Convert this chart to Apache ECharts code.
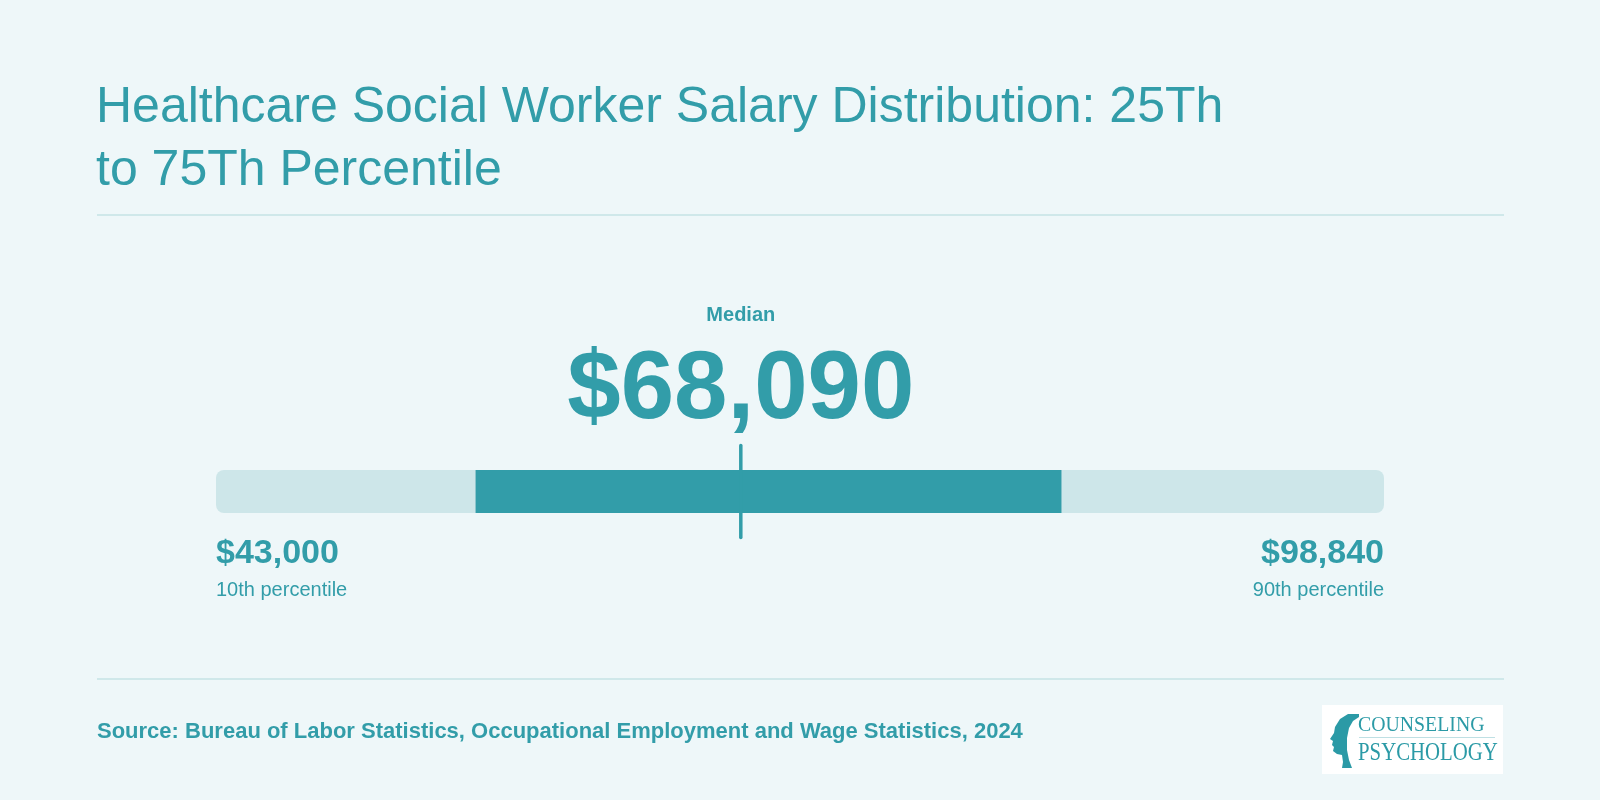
<!DOCTYPE html>
<html>
<head>
<meta charset="utf-8">
<script src="https://cdn.jsdelivr.net/npm/echarts@6/dist/echarts.min.js"></script>
<style>
html, body { margin: 0; padding: 0; background: #eef7f9; }
#chart { width: 1600px; height: 800px; }
</style>
</head>
<body>
<div id="chart"></div>
<script>
// salary percentiles
var percentileNames = ['10th percentile', '25th percentile', 'Median', '75th percentile', '90th percentile'];
var salaryValues = [43000, 55410, 68090, 83420, 98840];

var titleText = 'Healthcare Social Worker Salary Distribution: 25Th\nto 75Th Percentile';
var sourceText = 'Source: Bureau of Labor Statistics, Occupational Employment and Wage Statistics, 2024';

var teal = '#329da9';
var pale = '#cde6e9';
var ruleColor = '#cfe8ea';
var font = '"Liberation Sans", Arial, sans-serif';

function money(v) {
    return '$' + v.toLocaleString('en-US');
}

// outer band 10th-90th, inner band 25th-75th
var ranges = [
    [salaryValues[0], salaryValues[4]],
    [salaryValues[1], salaryValues[3]]
];
var ends = [
    [salaryValues[0], 0],
    [salaryValues[4], 4]
];

function renderRange(params, api) {
    var a = api.coord([api.value(0), 1]);
    var b = api.coord([api.value(1), 0]);
    var outer = params.dataIndex === 0;
    return {
        type: 'rect',
        shape: { x: a[0], y: a[1], width: b[0] - a[0], height: b[1] - a[1], r: outer ? 8 : 0 },
        style: { fill: outer ? pale : teal }
    };
}

function renderMedian(params, api) {
    var v = api.value(0);
    var top = api.coord([v, 1]);
    var bot = api.coord([v, 0]);
    var x = top[0];
    var cy = (top[1] + bot[1]) / 2;
    return {
        type: 'group',
        children: [
            {
                type: 'line',
                shape: { x1: x, y1: cy - 46, x2: x, y2: cy + 46 },
                style: { stroke: teal, lineWidth: 3.5, lineCap: 'round' }
            },
            {
                type: 'text',
                style: {
                    text: percentileNames[2], x: x, y: cy - 176.5,
                    align: 'center', verticalAlign: 'middle',
                    fontFamily: font, fontSize: 20, fontWeight: 'bold', fill: teal
                }
            },
            {
                type: 'text',
                style: {
                    text: money(v), x: x, y: cy - 100,
                    align: 'center', verticalAlign: 'middle',
                    fontFamily: font, fontSize: 96, fontWeight: 'bold', fill: teal
                }
            }
        ]
    };
}

function renderEnd(params, api) {
    var v = api.value(0);
    var p = api.coord([v, 0]);
    var q = api.coord([v, 1]);
    var cy = (p[1] + q[1]) / 2;
    var align = params.dataIndex === 0 ? 'left' : 'right';
    return {
        type: 'group',
        children: [
            {
                type: 'text',
                style: {
                    text: money(v), x: p[0], y: cy + 62,
                    align: align, verticalAlign: 'middle',
                    fontFamily: font, fontSize: 34, fontWeight: 'bold', fill: teal
                }
            },
            {
                type: 'text',
                style: {
                    text: percentileNames[api.value(1)], x: p[0], y: cy + 98.5,
                    align: align, verticalAlign: 'middle',
                    fontFamily: font, fontSize: 20, fill: teal
                }
            }
        ]
    };
}

var chart = echarts.init(document.getElementById('chart'));

var option = {
    backgroundColor: '#eef7f9',
    animation: false,
    title: {
        text: titleText,
        left: 96,
        top: 77,
        padding: 0,
        textStyle: {
            color: teal,
            fontFamily: font,
            fontSize: 50,
            fontWeight: 'normal',
            lineHeight: 63
        }
    },
    grid: {
        left: 216,
        right: 216,
        top: 470,
        height: 43
    },
    xAxis: {
        type: 'value',
        min: salaryValues[0],
        max: salaryValues[4],
        show: false
    },
    yAxis: {
        type: 'value',
        min: 0,
        max: 1,
        show: false
    },
    series: [
        {
            type: 'custom',
            renderItem: renderRange,
            data: ranges,
            silent: true
        },
        {
            type: 'custom',
            renderItem: renderMedian,
            data: [[salaryValues[2]]],
            silent: true
        },
        {
            type: 'custom',
            renderItem: renderEnd,
            data: ends,
            silent: true
        }
    ],
    graphic: [
        {
            type: 'line',
            shape: { x1: 97, y1: 215, x2: 1504, y2: 215 },
            style: { stroke: ruleColor, lineWidth: 2 }
        },
        {
            type: 'line',
            shape: { x1: 97, y1: 679, x2: 1504, y2: 679 },
            style: { stroke: ruleColor, lineWidth: 2 }
        },
        {
            type: 'text',
            style: {
                text: sourceText, x: 97, y: 732,
                verticalAlign: 'middle',
                fontFamily: font, fontSize: 22, fontWeight: 'bold', fill: teal
            }
        },
        // logo
        {
            type: 'rect',
            shape: { x: 1322, y: 705, width: 181, height: 69 },
            style: { fill: '#ffffff' }
        },
        {
            type: 'polygon',
            shape: {
                points: [
                    [1359, 714], [1348, 714], [1340, 719], [1335, 727], [1334, 733],
                    [1330, 739], [1333, 741], [1332, 745], [1334, 747], [1333, 751],
                    [1337, 754], [1342, 755], [1343, 762], [1342, 768], [1352, 768],
                    [1349, 760], [1347, 750], [1347, 738], [1349, 728], [1353, 721],
                    [1359, 717]
                ]
            },
            style: { fill: '#2b9aa6' }
        },
        {
            type: 'text',
            x: 1358, y: 725,
            scaleX: 0.9,
            style: {
                text: 'COUNSELING', x: 0, y: 0,
                verticalAlign: 'middle',
                fontFamily: '"Liberation Serif", serif', fontSize: 22, fill: '#2b9aa6'
            }
        },
        {
            type: 'line',
            shape: { x1: 1359, y1: 737.5, x2: 1495, y2: 737.5 },
            style: { stroke: '#bfe0e4', lineWidth: 1 }
        },
        {
            type: 'text',
            x: 1358, y: 753,
            scaleX: 0.8,
            style: {
                text: 'PSYCHOLOGY', x: 0, y: 0,
                verticalAlign: 'middle',
                fontFamily: '"Liberation Serif", serif', fontSize: 26, fill: '#2b9aa6'
            }
        }
    ]
};

chart.setOption(option);
window.addEventListener('resize', function () {
    chart.resize();
});
</script>
</body>
</html>
